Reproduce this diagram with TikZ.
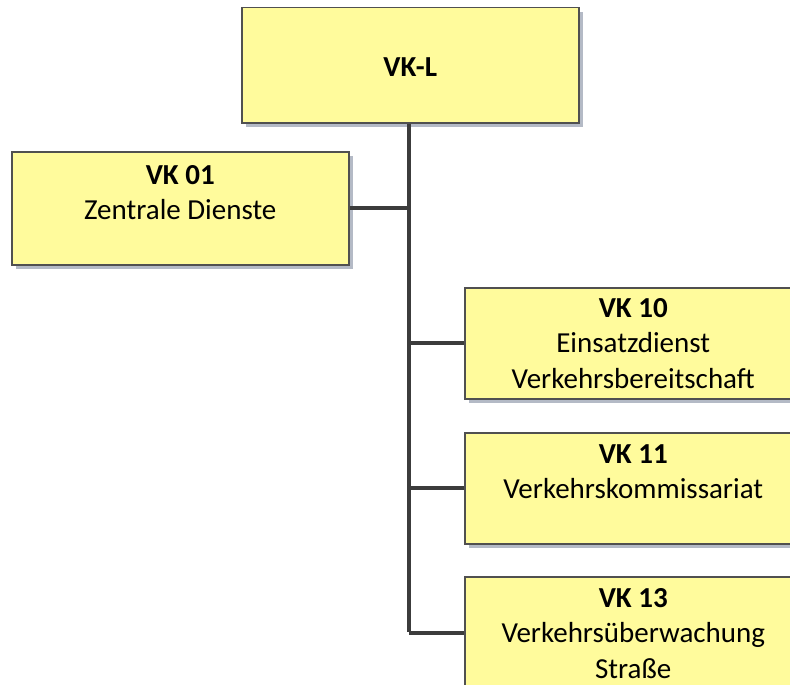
\documentclass[tikz,border=0pt]{standalone}
\usepackage{fontspec}
\setmainfont{Carlito}
\usetikzlibrary{positioning,shadows}
\definecolor{boxfill}{HTML}{FFFB9C}
\definecolor{boxline}{HTML}{505050}
\definecolor{linkcol}{HTML}{3C3C3C}
\definecolor{shadowcol}{HTML}{B4BAC6}
\tikzset{
  orgbox/.style={draw=boxline,line width=1.5pt,fill=boxfill,minimum width=337pt,minimum height=113pt,
    inner sep=0pt,drop shadow={shadow xshift=4pt,shadow yshift=-4pt,fill=shadowcol,opacity=1}},
  orgtext/.style={align=center,inner sep=0pt,font=\fontsize{29}{35.5}\selectfont},
  link/.style={draw=linkcol,line width=4pt}
}
\begin{document}
\begin{tikzpicture}[x=1pt,y=-1pt]
\clip (0,0) rectangle (790,685);

\node[orgbox,anchor=north west,minimum height=115pt] (vkl) at (241,7) {};
\node[orgtext] (vklt) at ([yshift=-2pt]vkl.center) {\textbf{VK-L}};

\node[orgbox,anchor=north west] (vk01) at (11,151) {};
\node[orgtext,anchor=north] (vk01t) at ([yshift=-14pt]vk01.north) {\textbf{VK 01}\\Zentrale Dienste};

\node[orgbox,anchor=north west,minimum height=111pt] (vk10) at (464,287) {};
\node[orgtext,anchor=north] (vk10t) at ([yshift=-11pt]vk10.north) {\textbf{VK 10}\\Einsatzdienst\\Verkehrsbereitschaft};

\node[orgbox,anchor=north west,minimum height=111pt] (vk11) at (464,432) {};
\node[orgtext,anchor=north] (vk11t) at ([yshift=-12pt]vk11.north) {\textbf{VK 11}\\Verkehrskommissariat};

\node[orgbox,anchor=north west] (vk13) at (464,576) {};
\node[orgtext,anchor=north] (vk13t) at ([yshift=-12pt]vk13.north) {\textbf{VK 13}\\Verkehrsüberwachung\\Straße};

\coordinate (trunk) at (409,632);
\draw[link] (vkl.south -| trunk) -- (trunk);
\draw[link] (vk01.east) -- (vk01.east -| trunk);
\draw[link] (vk10.west -| trunk) -- (vk10.west);
\draw[link] (vk11.west -| trunk) -- (vk11.west);
\draw[link] (vk13.west -| trunk) -- (vk13.west);
\end{tikzpicture}
\end{document}
